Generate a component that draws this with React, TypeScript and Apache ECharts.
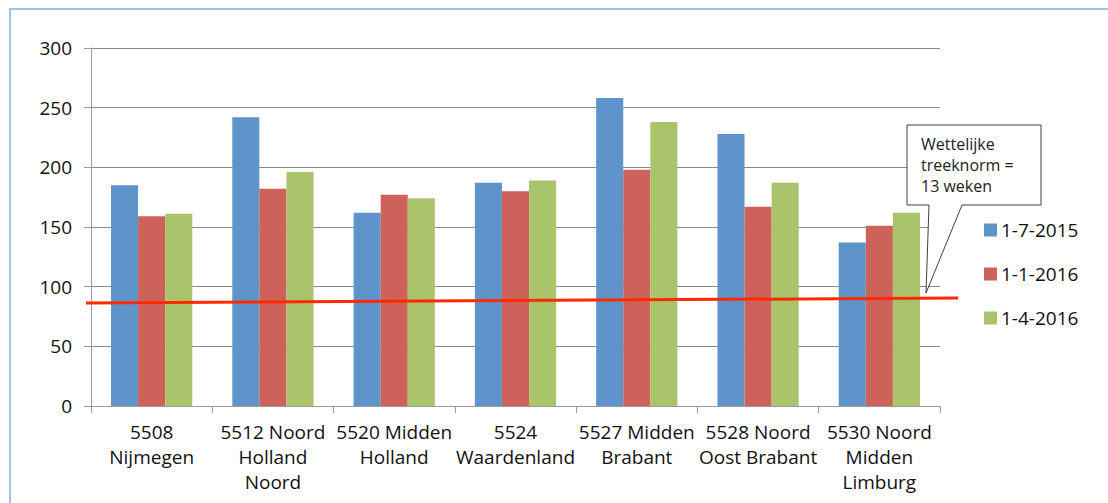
import React, { useEffect, useRef } from "react";
import * as echarts from "echarts";

const categories = [
  "5508\nNijmegen",
  "5512 Noord\nHolland\nNoord",
  "5520 Midden\nHolland",
  "5524\nWaardenland",
  "5527 Midden\nBrabant",
  "5528 Noord\nOost Brabant",
  "5530 Noord\nMidden\nLimburg",
];
const seriesNames = ["1-7-2015", "1-1-2016", "1-4-2016"];
const values2015_07 = [185, 242, 162, 187, 258, 228, 137];
const values2016_01 = [159, 182, 177, 180, 198, 167, 151];
const values2016_04 = [161, 196, 174, 189, 238, 187, 162];
const normLine = [
  [0, 86.3],
  [1, 90.5],
];
const yTicks = { min: 0, max: 300, interval: 50 };
const calloutText = "Wettelijke\ntreeknorm =\n13 weken";

const colors = ["#5f94cb", "#cd625b", "#a9c46b"];
const FONT = "Open Sans";

export default function App() {
  const ref = useRef<HTMLDivElement>(null);
  useEffect(() => {
    if (!ref.current) return;
    const chart = echarts.init(ref.current, null, { renderer: "svg" });
    const allValues = [values2015_07, values2016_01, values2016_04];
    chart.setOption({
      animation: false,
      backgroundColor: "#ffffff",
      textStyle: { fontFamily: FONT },
      grid: [
        { left: 91, right: 168, top: 48, bottom: 97, containLabel: false },
        { left: 86, right: 150, top: 48, bottom: 97, containLabel: false },
      ],
      legend: {
        data: seriesNames,
        orient: "vertical",
        left: 979,
        top: 215,
        itemWidth: 13,
        itemHeight: 13,
        itemGap: 24,
        icon: "rect",
        textStyle: { fontFamily: FONT, fontSize: 19, color: "#111", lineHeight: 20, padding: [0, 0, 0, -1] },
      },
      xAxis: [
        {
          type: "category",
          gridIndex: 0,
          data: categories,
          axisLine: { show: true, lineStyle: { color: "#9a9a9a", width: 1 } },
          axisTick: { show: true, length: 7, lineStyle: { color: "#9a9a9a" } },
          axisLabel: {
            fontFamily: FONT,
            fontSize: 19,
            lineHeight: 25,
            color: "#111",
            margin: 13,
            interval: 0,
          },
          splitLine: { show: false },
        },
        {
          type: "value",
          gridIndex: 1,
          min: 0,
          max: 1,
          show: false,
        },
      ],
      yAxis: [
        {
          type: "value",
          gridIndex: 0,
          min: yTicks.min,
          max: yTicks.max,
          interval: yTicks.interval,
          axisLine: { show: true, lineStyle: { color: "#9a9a9a" } },
          axisTick: { show: true, length: 7, lineStyle: { color: "#9a9a9a" } },
          axisLabel: { fontFamily: FONT, fontSize: 19, color: "#111", margin: 19 },
          splitLine: { show: true, lineStyle: { color: "#8a8a8a", width: 1 } },
        },
        {
          type: "value",
          gridIndex: 1,
          min: yTicks.min,
          max: yTicks.max,
          show: false,
        },
      ],
      series: [
        ...seriesNames.map((name, i) => ({
          name,
          type: "bar",
          data: allValues[i],
          itemStyle: { color: colors[i] },
          barGap: "0%",
          barCategoryGap: "33%",
          xAxisIndex: 0,
          yAxisIndex: 0,
        })),
        {
          name: "norm",
          type: "line",
          xAxisIndex: 1,
          yAxisIndex: 1,
          data: normLine,
          clip: false,
          symbol: "none",
          lineStyle: { color: "#ff2a00", width: 3 },
          z: 5,
        },
      ],
      graphic: [
        {
          type: "rect",
          shape: { x: 10, y: 9, width: 1120, height: 520 },
          style: { fill: "none", stroke: "#9dc3e6", lineWidth: 2 },
          silent: true,
        },
        {
          type: "polygon",
          shape: {
            points: [
              [907, 125],
              [1041, 125],
              [1041, 205],
              [962, 205],
              [926, 293],
              [929, 205],
              [907, 205],
            ],
          },
          style: { fill: "#ffffff", stroke: "#404040", lineWidth: 1 },
          z: 10,
        },
        {
          type: "text",
          x: 921,
          y: 133,
          style: {
            text: calloutText,
            fontFamily: FONT,
            fontSize: 16,
            lineHeight: 21,
            fill: "#222",
          },
          z: 11,
        },
      ],
    });
    return () => chart.dispose();
  }, []);
  return (
    <div
      ref={ref}
      style={{ position: "fixed", left: 0, top: 0, width: 1108, height: 503 }}
    />
  );
}
